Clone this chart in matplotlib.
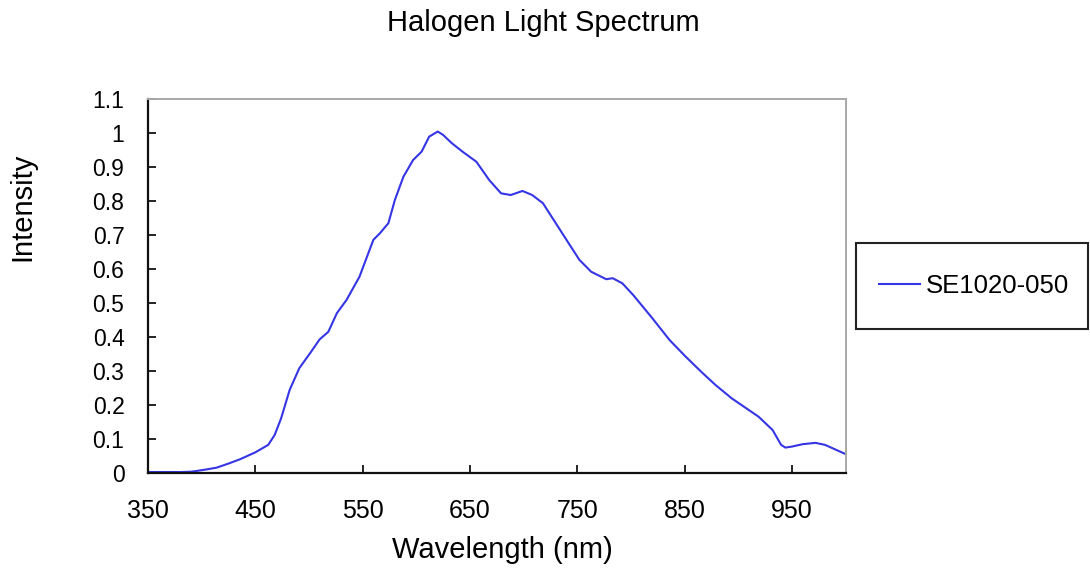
import matplotlib
matplotlib.use("Agg")
import matplotlib.pyplot as plt
from matplotlib.patches import Rectangle

plt.rcParams['font.family'] = ['Liberation Sans', 'DejaVu Sans']

# spectrum
wavelength = [350, 360, 370, 380, 390, 395, 405, 414, 425, 436, 450, 462, 468,
              474, 482, 491, 501, 510, 518, 526, 535, 547, 560, 566, 574, 580,
              588, 597, 605, 612, 620, 625, 633, 643, 656, 668, 679, 688, 699,
              708, 718, 730, 743, 752, 763, 777, 783, 792, 802, 820, 836, 851,
              867, 879, 894, 919, 932, 940, 944, 950, 960, 972, 981, 1000]
intensity = [0.002, 0.002, 0.002, 0.002, 0.003, 0.005, 0.010, 0.015, 0.027,
             0.040, 0.060, 0.082, 0.111, 0.160, 0.244, 0.308, 0.352, 0.393,
             0.415, 0.470, 0.509, 0.577, 0.686, 0.705, 0.735, 0.803, 0.872,
             0.921, 0.946, 0.990, 1.005, 0.995, 0.971, 0.946, 0.916, 0.862,
             0.823, 0.818, 0.830, 0.818, 0.794, 0.735, 0.671, 0.627, 0.592,
             0.570, 0.573, 0.558, 0.524, 0.455, 0.391, 0.342, 0.293, 0.258,
             0.219, 0.165, 0.126, 0.082, 0.074, 0.077, 0.084, 0.088, 0.082,
             0.055]
series_name = 'SE1020-050'
x_ticks = [350, 450, 550, 650, 750, 850, 950]
y_ticks = [0, 0.1, 0.2, 0.3, 0.4, 0.5, 0.6, 0.7, 0.8, 0.9, 1, 1.1]
y_labels = ['0', '0.1', '0.2', '0.3', '0.4', '0.5', '0.6', '0.7', '0.8', '0.9', '1', '1.1']

blue = '#3535e6'

fig = plt.figure(figsize=(10.9, 5.69), dpi=100)
ax = fig.add_axes([0.1358, 0.1692, 0.6399, 0.6563])

line, = ax.plot(wavelength, intensity, color=blue, lw=1.5, label=series_name)

ax.set_xlim(350, 1000)
ax.set_ylim(0, 1.1)
ax.set_xticks(x_ticks)
ax.set_yticks(y_ticks)
ax.set_yticklabels(y_labels)
ax.tick_params(axis='x', direction='in', length=6, width=1.2, pad=19, labelsize=18)
ax.tick_params(axis='y', direction='in', length=6, width=1.2, pad=17, labelsize=16.5)

for s in ['left', 'bottom']:
    ax.spines[s].set_color('#111111')
    ax.spines[s].set_linewidth(1.6)
for s in ['top', 'right']:
    ax.spines[s].set_color('#a8a8a8')
    ax.spines[s].set_linewidth(1.4)

fig.text(0.498, 0.96, 'Halogen Light Spectrum', ha='center', va='center', fontsize=21)
fig.text(0.4606, 0.034, 'Wavelength (nm)', ha='center', va='center', fontsize=21)
fig.text(0.0202, 0.6367, 'Intensity', ha='center', va='center', rotation=90, fontsize=21)

# legend box on the right
fig.add_artist(Rectangle((0.7853, 0.4218), 0.2128, 0.151, transform=fig.transFigure,
                         fill=False, edgecolor='#222222', lw=1.5))
fig.legend(handles=[line], loc='center left', bbox_to_anchor=(0.7853, 0.4973),
           frameon=False, fontsize=18.5, handlelength=1.6, handletextpad=0.2,
           borderpad=0, borderaxespad=0.9)

fig.savefig('out.png', dpi=100)
